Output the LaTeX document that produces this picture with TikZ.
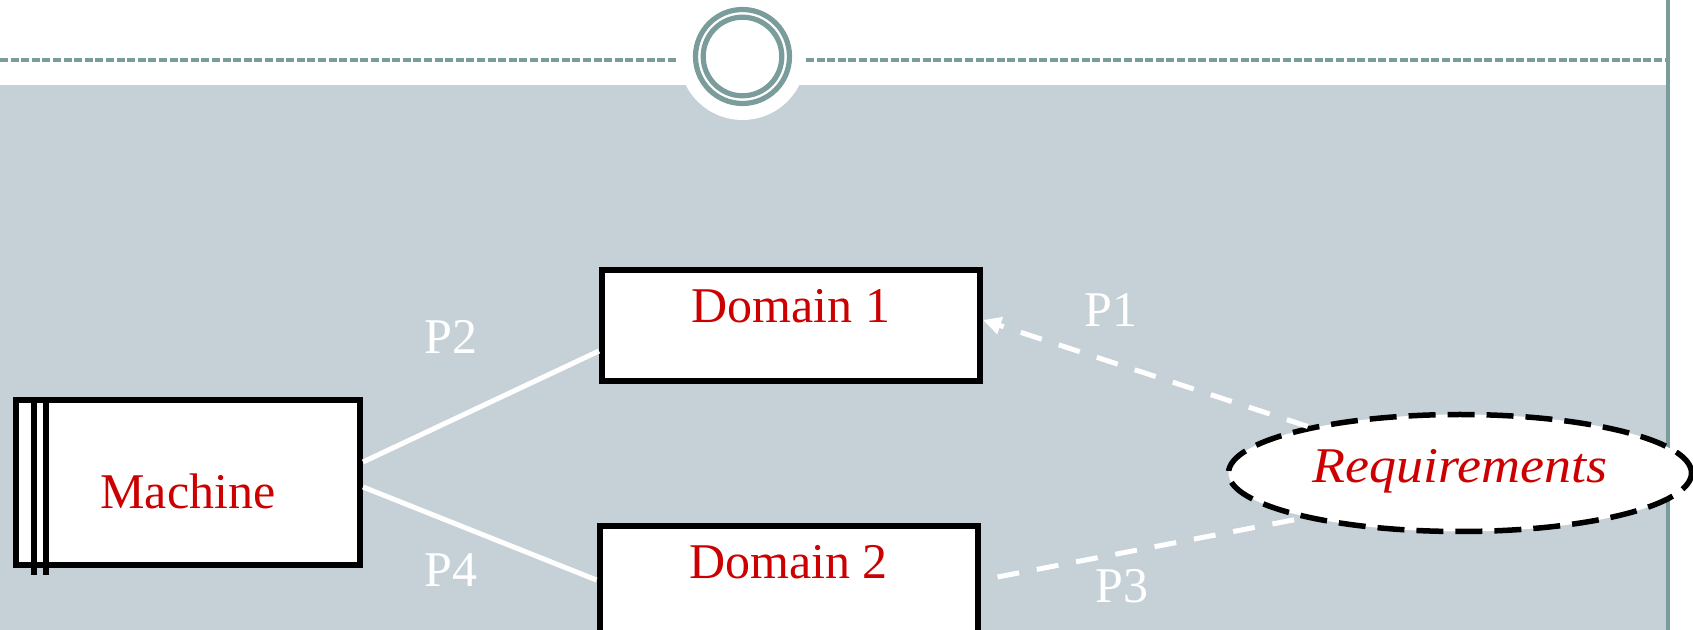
\documentclass[tikz,border=0pt]{standalone}
\usepackage{fontspec}
\setmainfont{Liberation Serif}
\newfontfamily\widefont[FakeStretch=1.08]{Liberation Serif}
\usetikzlibrary{shapes.geometric,arrows.meta}
\definecolor{panel}{RGB}{197,209,215}
\definecolor{rule}{RGB}{122,156,154}
\definecolor{ink}{RGB}{204,0,0}

\begin{document}
\begin{tikzpicture}[x=0.5pt,y=-0.5pt,
  bigtext/.style={font=\fontsize{25}{30}\selectfont},
  box/.style={draw=black, fill=white, line width=3pt, inner sep=0pt, bigtext, text=ink},
  dombox/.style={box, minimum width=189pt, minimum height=55.5pt, text height=18pt, text depth=20.5pt},
  link/.style={draw=white, line width=2.5pt},
  dlink/.style={link, dash pattern=on 11pt off 9pt},
  plabel/.style={text=white, bigtext, anchor=base, inner sep=0pt},
  ruleline/.style={draw=rule},
]
\useasboundingbox (0,0) rectangle (1693,630);

% slide background: grey panel with a round notch under the ornament
\fill[panel] (0,85) rectangle (1668,630);
\fill[white] (742.5,56.5) circle[radius=31.75pt];

% header rule, ornament rings and right margin rule
\draw[ruleline, line width=1.6pt, dash pattern=on 4pt off 1.3pt] (0,60) -- (677,60) (806,60) -- (1668,60);
\draw[ruleline, line width=2.6pt] (742.5,56.5) circle[radius=23.5pt];
\draw[ruleline, line width=2.6pt] (742.5,56.5) circle[radius=19.65pt];
\draw[ruleline, line width=1.6pt] (1668,0) -- (1668,630);

% machine box with its double stripe
\node[box, minimum width=172pt, minimum height=82.5pt, text height=26.5pt, text depth=0pt] (m) at (188,482.5) {Machine};
\draw[line width=3pt] (34,400) -- (34,575) (46,400) -- (46,575);

% problem domains
\node[dombox] (d1) at (791,325.5) {Domain 1};
\node[dombox] (d2) at (788.5,581.5) {Domain 2};

% requirements
\node[ellipse, draw=black, fill=white, line width=2.75pt, dash pattern=on 13.5pt off 6pt,
      minimum width=231.5pt, minimum height=58.5pt, inner sep=0pt,
      text height=18pt, text depth=8pt, font=\fontsize{25}{30}\selectfont\widefont\itshape, text=ink]
      (req) at (1460,473) {Requirements};

% interfaces
\draw[link] ([yshift=10.25pt]m.east) -- ([yshift=-12.75pt]d1.west);
\draw[link] ([yshift=-2.25pt]m.east) -- ([yshift=0.75pt]d2.west);
\draw[dlink, -{Triangle[length=9pt,width=8.5pt]}] (req.163) -- ([yshift=2.75pt]d1.east);
\draw[dlink] ([xshift=8.5pt,yshift=2.25pt]d2.east) -- (req.196);

% interface labels
\node[plabel] (p2) at (451,354) {P2};
\node[plabel] (p4) at (451,587) {P4};
\node[plabel] (p1) at (1111,327) {P1};
\node[plabel] (p3) at (1122,603) {P3};
\end{tikzpicture}
\end{document}
